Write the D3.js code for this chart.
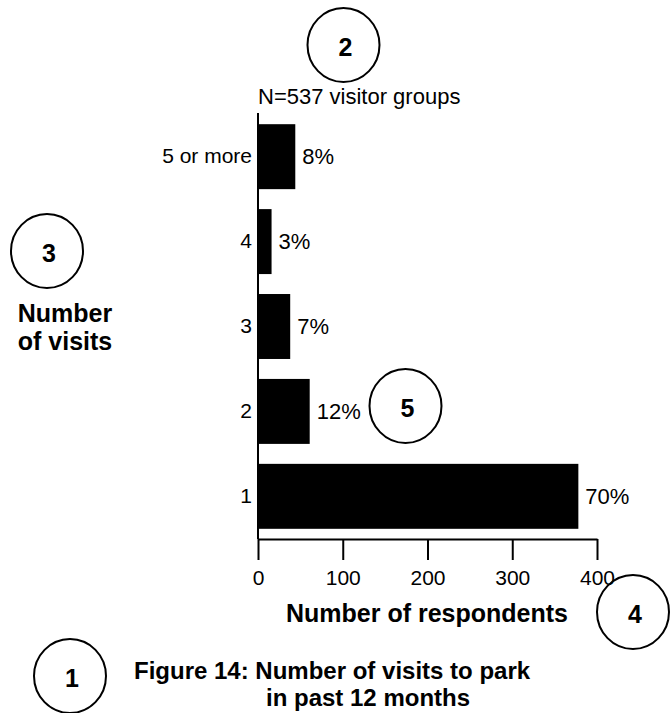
<!DOCTYPE html>
<html><head><meta charset="utf-8">
<script src="https://cdn.jsdelivr.net/npm/d3@7"></script>
<style>body{margin:0;background:#fff}svg{display:block}text{font-family:"Liberation Sans",Arial,sans-serif;fill:#000}</style>
</head><body>
<svg id="c" width="671" height="713"></svg>
<script>
const categories = ["5 or more","4","3","2","1"];
const counts = [44, 16, 38, 61, 378];
const percentLabels = ["8%","3%","7%","12%","70%"];
const xTicks = [0,100,200,300,400];
const calloutNumbers = ["1","2","3","4","5"];

const FONT = "'Liberation Sans',Arial,sans-serif";
const svg = d3.select("#c");
const x = d3.scaleLinear().domain([0,400]).range([258,597]);
const y = d3.scaleBand().domain(categories).range([114,539]).paddingInner(0.235).paddingOuter(0.12);

// bars
svg.append("g").selectAll("rect").data(categories).join("rect")
  .attr("x", x(0)).attr("y", d=>y(d)).attr("height", y.bandwidth())
  .attr("width", (d,i)=>x(counts[i])-x(0)).attr("fill","#000");

// value labels
svg.append("g").selectAll("text").data(categories).join("text")
  .attr("x",(d,i)=>x(counts[i])+7).attr("y",d=>y(d)+y.bandwidth()/2)
  .attr("dy","0.35em").attr("font-size",22).text((d,i)=>percentLabels[i]);

// y axis
const ya = svg.append("g").attr("transform",`translate(${x(0)},0)`)
  .call(d3.axisLeft(y).tickSize(0).tickPadding(6));
ya.select(".domain").attr("stroke","#000").attr("stroke-width",2).attr("d","M0,113V539");
ya.selectAll("text").attr("font-size",21).attr("fill","#000").style("font-family",FONT);

// x axis
const xa = svg.append("g").attr("transform","translate(0,539)")
  .call(d3.axisBottom(x).tickValues(xTicks).tickSize(21).tickSizeOuter(0).tickPadding(10));
xa.select(".domain").attr("stroke","#000").attr("stroke-width",2);
xa.selectAll(".tick line").attr("stroke","#000").attr("stroke-width",2);
xa.selectAll("text").attr("font-size",21).attr("fill","#000").style("font-family",FONT);

// titles
svg.append("text").attr("x",258).attr("y",104).attr("font-size",22).text("N=537 visitor groups");
svg.append("text").attr("x",427).attr("y",622).attr("text-anchor","middle").attr("font-size",25).attr("font-weight","bold").text("Number of respondents");
const yt = svg.append("text").attr("text-anchor","middle").attr("font-size",25).attr("font-weight","bold");
yt.append("tspan").attr("x",65).attr("y",322).text("Number");
yt.append("tspan").attr("x",65).attr("y",350).text("of visits");
svg.append("text").attr("x",134).attr("y",679).attr("font-size",24).attr("font-weight","bold")
  .text("Figure 14: Number of visits to park");
svg.append("text").attr("x",266).attr("y",706).attr("font-size",24).attr("font-weight","bold")
  .text("in past 12 months");

// callout circles
const calloutPos = [[70,676],[343.5,45],[47,251],[633,612],[405.5,406]];
const callouts = calloutNumbers.map((n,i)=>({n, cx:calloutPos[i][0], cy:calloutPos[i][1]}));
const cg = svg.append("g").selectAll("g").data(callouts).join("g");
cg.append("ellipse").attr("cx",d=>d.cx).attr("cy",d=>d.cy).attr("rx",36).attr("ry",37)
  .attr("fill","none").attr("stroke","#000").attr("stroke-width",2);
cg.append("text").attr("x",d=>d.cx+2).attr("y",d=>d.cy+2).attr("dy","0.35em").attr("text-anchor","middle")
  .attr("font-size",25).attr("font-weight","bold").text(d=>d.n);
</script>
</body></html>
